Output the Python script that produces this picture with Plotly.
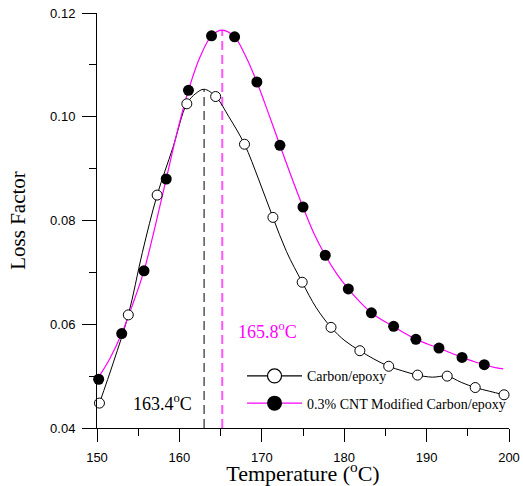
import plotly.graph_objects as go

# ---- Data ----
carbon_temp = [150.3, 153.8, 157.3, 160.9, 164.4, 167.9, 171.35, 174.9, 178.4,
               181.9, 185.4, 188.9, 192.5, 195.9, 199.4]
carbon_loss = [0.0448, 0.0618, 0.0849, 0.1025, 0.1039, 0.0947, 0.0806, 0.0681,
               0.0594, 0.0549, 0.0519, 0.0502, 0.0500, 0.0478, 0.0464]

cnt_temp = [150.2, 153.0, 155.7, 158.4, 161.1, 163.9, 166.7, 169.4, 172.2, 175.0,
            177.7, 180.5, 183.3, 186.0, 188.7, 191.5, 194.3, 197.0]
cnt_loss = [0.0494, 0.0582, 0.0703, 0.0880, 0.1051, 0.1156, 0.1154, 0.1067,
            0.0945, 0.0826, 0.0733, 0.0668, 0.0622, 0.0596, 0.0571, 0.0554,
            0.0536, 0.0522]

# continuous curves
carbon_curve_t = [150.3, 152.0, 153.8, 155.5, 157.3, 159.2, 160.9, 162.0, 163.0,
                  164.4, 166.0, 167.9, 169.6, 171.35, 173.0, 174.9, 176.6, 178.4,
                  180.1, 181.9, 183.6, 185.4, 187.1, 188.9, 190.7, 192.5, 194.2,
                  195.9, 197.6, 199.4]
carbon_curve_v = [0.0448, 0.0527, 0.0618, 0.0738, 0.0849, 0.0940, 0.1025, 0.1045,
                  0.1053, 0.1039, 0.1000, 0.0947, 0.0880, 0.0806, 0.0740, 0.0681,
                  0.0632, 0.0594, 0.0568, 0.0549, 0.0533, 0.0519, 0.0510, 0.0502,
                  0.0498, 0.0500, 0.0488, 0.0478, 0.0471, 0.0464]

cnt_curve_t = [150.2, 151.6, 153.0, 154.3, 155.7, 157.0, 158.4, 159.8, 161.1,
               162.5, 163.9, 165.2, 166.7, 168.0, 169.4, 170.8, 172.2, 173.6,
               175.0, 176.3, 177.7, 179.1, 180.5, 181.9, 183.3, 184.6, 186.0,
               187.3, 188.7, 190.1, 191.5, 192.9, 194.3, 195.6, 197.0, 198.2, 199.3]
cnt_curve_v = [0.0498, 0.0535, 0.0582, 0.0637, 0.0703, 0.0785, 0.0880, 0.0975,
               0.1051, 0.1115, 0.1156, 0.1167, 0.1154, 0.1118, 0.1067, 0.1007,
               0.0945, 0.0884, 0.0826, 0.0776, 0.0733, 0.0697, 0.0668, 0.0643,
               0.0622, 0.0608, 0.0596, 0.0583, 0.0571, 0.0562, 0.0554, 0.0545,
               0.0536, 0.0529, 0.0522, 0.0517, 0.0514]

peak_temp = [163.0, 165.2]
peak_loss = [0.1053, 0.1167]
peak_labels = ["163.4<sup>o</sup>C", "165.8<sup>o</sup>C"]

y_min = 0.04
MAGENTA = "#FF00FF"

fig = go.Figure()

# dashed peak markers
fig.add_trace(go.Scatter(x=[peak_temp[0], peak_temp[0]], y=[y_min, peak_loss[0]],
                         mode="lines", line=dict(color="#555555", width=1.5, dash="9px,5px"),
                         showlegend=False, hoverinfo="skip"))
fig.add_trace(go.Scatter(x=[peak_temp[1], peak_temp[1]], y=[y_min, peak_loss[1]],
                         mode="lines", line=dict(color="#FF55FF", width=2, dash="9px,5px"),
                         showlegend=False, hoverinfo="skip"))

# curves
fig.add_trace(go.Scatter(x=carbon_curve_t, y=carbon_curve_v, mode="lines",
                         line=dict(color="black", width=1, shape="spline"),
                         showlegend=False, cliponaxis=False))
fig.add_trace(go.Scatter(x=cnt_curve_t, y=cnt_curve_v, mode="lines",
                         line=dict(color=MAGENTA, width=1.2, shape="spline"),
                         showlegend=False, cliponaxis=False))

# markers
fig.add_trace(go.Scatter(x=carbon_temp, y=carbon_loss, mode="markers",
                         marker=dict(symbol="circle", size=10, color="white",
                                     line=dict(color="black", width=1)),
                         showlegend=False, cliponaxis=False))
fig.add_trace(go.Scatter(x=cnt_temp, y=cnt_loss, mode="markers",
                         marker=dict(symbol="circle", size=11, color="black",
                                     line=dict(width=0)),
                         showlegend=False, cliponaxis=False))

# legend entries
fig.add_trace(go.Scatter(x=[None], y=[None], mode="lines+markers", name="Carbon/epoxy",
                         line=dict(color="black", width=1.2),
                         marker=dict(symbol="circle", size=14, color="white",
                                     line=dict(color="black", width=1.2)),
                         legendgroup="a"))
fig.add_trace(go.Scatter(x=[None], y=[None], mode="lines+markers",
                         name="0.3% CNT Modified Carbon/epoxy",
                         line=dict(color=MAGENTA, width=1.2),
                         marker=dict(symbol="circle", size=15, color="black"),
                         legendgroup="b"))

fig.add_annotation(x=161.8, y=0.0449, xref="x", yref="y", text=peak_labels[0],
                   showarrow=False, xanchor="right", yanchor="middle",
                   font=dict(family="Liberation Serif", size=18, color="black"))
fig.add_annotation(x=166.9, y=0.0588, xref="x", yref="y", text=peak_labels[1],
                   showarrow=False, xanchor="left", yanchor="middle",
                   font=dict(family="Liberation Serif", size=18, color=MAGENTA))

fig.update_layout(
    width=523, height=486,
    margin=dict(l=97, r=12, t=13, b=58),
    plot_bgcolor="white", paper_bgcolor="white",
    font=dict(family="Liberation Sans", size=13, color="black"),
    legend=dict(x=0.352, y=0.163, xanchor="left", yanchor="top",
                bgcolor="rgba(0,0,0,0)", traceorder="grouped", tracegroupgap=6,
                itemwidth=55,
                font=dict(family="Liberation Serif", size=14, color="black")),
    xaxis=dict(range=[150, 200], dtick=10, tick0=150, showgrid=False, zeroline=False,
               automargin=False, ticklabeloverflow="allow",
               showline=True, linecolor="black", linewidth=1,
               ticks="outside", ticklen=13, tickcolor="black", tickwidth=1,
               minor=dict(dtick=5, ticks="outside", ticklen=7, tickcolor="black"),
               tickfont=dict(family="Liberation Sans", size=13),
               ticklabelstandoff=4,
               title=dict(text="Temperature (<sup>o</sup>C)", standoff=0,
                          font=dict(family="Liberation Serif", size=22))),
    yaxis=dict(range=[0.04, 0.12], dtick=0.02, tick0=0.04, tickformat=".2f",
               showgrid=False, zeroline=False, automargin=False,
               ticklabeloverflow="allow",
               showline=True, linecolor="black", linewidth=1,
               ticks="outside", ticklen=14, tickcolor="black", tickwidth=1,
               minor=dict(dtick=0.01, ticks="outside", ticklen=7, tickcolor="black"),
               tickfont=dict(family="Liberation Sans", size=13),
               ticklabelstandoff=4,
               title=dict(text="Loss Factor", standoff=18,
                          font=dict(family="Liberation Serif", size=21))),
)

# remove the page's default body margin so the figure fills the window exactly
fig.write_html("out.html",
               config={"displayModeBar": False},
               post_script="document.body.style.margin='0px';"
                           "document.documentElement.style.overflow='hidden';")
